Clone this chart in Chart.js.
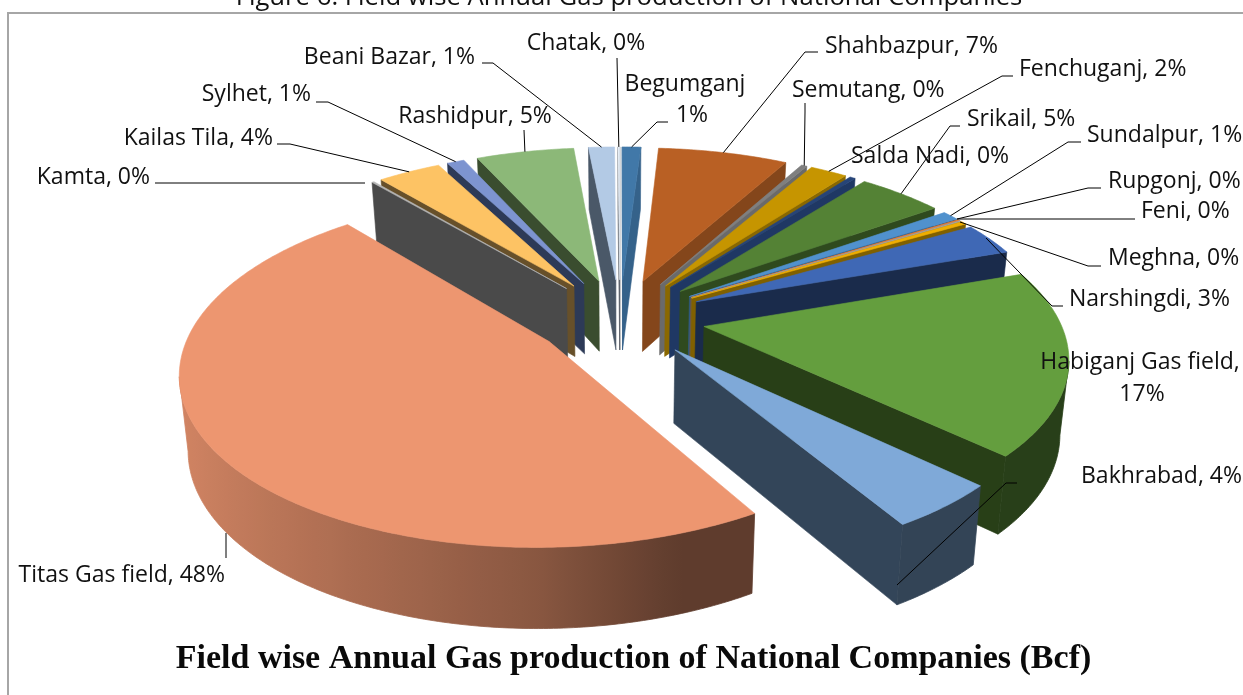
<!DOCTYPE html>
<html>
<head>
<meta charset="utf-8">
<style>html,body{margin:0;padding:0;background:#fff;overflow:hidden}#wrap{width:1243px;height:695px}canvas{display:block}</style>
<script src="https://cdn.jsdelivr.net/npm/chart.js@4"></script>
</head>
<body>
<div id="wrap"><canvas id="c" width="1243" height="695"></canvas></div>
<script>
const categories = ["Begumganj","Shahbazpur","Semutang","Fenchuganj","Salda Nadi","Srikail","Sundalpur","Rupgonj","Feni","Meghna","Narshingdi","Habiganj Gas field","Bakhrabad","Titas Gas field","Kamta","Kailas Tila","Sylhet","Rashidpur","Beani Bazar","Chatak"];
const shares = [1,7,0.3,2,0.3,4.6,0.9,0.1,0.1,0.3,3.1,17.4,4.3,47.38,0.12,3.4,0.93,5.27,1.4,0.1];
const percentLabels = [1,7,0,2,0,5,1,0,0,0,3,17,4,48,0,4,1,5,1,0];
const topColors = ["#4178A8","#B96024","#7F7F7F","#C69500","#264478","#548235","#5091CD","#ED7D31","#A5A5A5","#F0AE00","#3F68B5","#649E3E","#7FA9D8","#ED9670","#B7B7B7","#FDC364","#7D94D0","#8CB878","#B3CAE5","#E6EEF7"];
const wallColors = ["#35628A","#84461B","#6A6A6A","#8A6800","#1F3864","#2F4A1E","#2F5A85","#8A4A1C","#606060","#806000","#1A2B4B","#283F17","#334559","#5F3E2E","#4A4A4A","#67502A","#2D3A57","#3A4D2F","#4A5868","#5A6068"];

/* layout of the labels, separate from the data */
const labelLayout = [
 {lines:[["Begumganj",685,84],["1%",692,115]],align:"center",path:[[668,122],[657,122]]},
 {lines:[[null,825,46]],align:"left",path:[[818,52],[805,52]]},
 {lines:[[null,792,90]],align:"left",path:[[805,103],[805,112]]},
 {lines:[[null,1019,69]],align:"left",path:[[1013,76],[1002,76]]},
 {lines:[[null,851,156]],align:"left",path:null},
 {lines:[[null,967,119]],align:"left",path:[[960,126],[950,126]]},
 {lines:[[null,1087,135]],align:"left",path:[[1081,142],[1068,142]]},
 {lines:[[null,1108,181]],align:"left",path:[[1101,188],[1088,188],[957,219]],fixed:true},
 {lines:[[null,1141,211]],align:"left",path:[[1135,219],[957,219]],fixed:true},
 {lines:[[null,1108,258]],align:"left",path:[[1101,266],[1088,266],[960,222]],fixed:true},
 {lines:[[null,1069,299]],align:"left",path:[[1063,306],[1052,306],[986,238]],fixed:true},
 {lines:[["Habiganj Gas field,",1140,362],["17%",1142,394]],align:"center",path:null},
 {lines:[[null,1081,476]],align:"left",path:[[1017,483],[1006,483],[897,585]],fixed:true},
 {lines:[[null,225,575]],align:"right",path:[[226,558],[226,533]],fixed:true},
 {lines:[[null,150,177]],align:"right",path:[[155,183],[365,183]],fixed:true},
 {lines:[[null,273,138]],align:"right",path:[[277,144],[290,144]]},
 {lines:[[null,311,94]],align:"right",path:[[316,102],[328,102]]},
 {lines:[[null,475,116]],align:"center",path:[[524,130]]},
 {lines:[[null,475,57]],align:"right",path:[[482,63],[493,63]]},
 {lines:[[null,586,43]],align:"center",path:[[617,58]]}
];
const captionText = "Figure 6: Field wise Annual Gas production of National Companies";
const chartTitle = "Field wise Annual Gas production of National Companies (Bcf)";
const labelFont = "23px 'Open Sans', sans-serif";
const captionFont = "25.7px 'Open Sans', sans-serif";

/* view of the tilted, exploded pie */
const VIEW = {cx:620, cy:318, sx:355, sy:165, k:0.158, explode:0.24, depth:72, depthSlope:8, shrink:0.98};

function project(mid, theta, r, lowered){
  const x = VIEW.explode*Math.sin(mid) + r*Math.sin(theta);
  const z = VIEW.explode*Math.cos(mid) + r*Math.cos(theta);
  const s = 1/(1+VIEW.k*z);
  let X = VIEW.cx + VIEW.sx*x*s, Y = VIEW.cy - VIEW.sy*z*s;
  if(lowered){ X = VIEW.cx + (X-VIEW.cx)*VIEW.shrink; Y += VIEW.depth - VIEW.depthSlope*z; }
  return [X,Y];
}
function rgb(hex){ const n=parseInt(hex.slice(1),16); return [n>>16,(n>>8)&255,n&255]; }
function times(hex,b){ return "rgb("+rgb(hex).map(v=>Math.round(v*b)).join(",")+")"; }
function brightness(theta){
  const s=Math.sin(theta);
  return s<0 ? 0.58+0.32*(-s) : Math.max(0.40,0.58-0.55*s);
}
function fillPoly(ctx,pts,color){
  ctx.beginPath();
  pts.forEach((p,i)=> i?ctx.lineTo(p[0],p[1]):ctx.moveTo(p[0],p[1]));
  ctx.closePath();
  ctx.fillStyle=color; ctx.strokeStyle=color; ctx.lineWidth=0.6;
  ctx.fill(); ctx.stroke();
}
function wall(ctx,mid,t1,r1,t2,r2,color){
  const a=project(mid,t1,r1), b=project(mid,t2,r2);
  if(b[0]>=a[0]) return;
  fillPoly(ctx,[a,b,project(mid,t2,r2,true),project(mid,t1,r1,true)],color);
}
function outerWall(ctx,s,n){
  const upper=[],lower=[],angles=[];
  for(let j=0;j<n;j++){
    const a=s.t0+(s.t1-s.t0)*j/n, b=s.t0+(s.t1-s.t0)*(j+1)/n;
    const pa=project(s.mid,a,1), pb=project(s.mid,b,1);
    if(pb[0]>=pa[0]) continue;
    if(!upper.length){ upper.push(pa); lower.push(project(s.mid,a,1,true)); angles.push(a); }
    upper.push(pb); lower.push(project(s.mid,b,1,true)); angles.push(b);
  }
  if(upper.length<2) return;
  const xs=upper.map(p=>p[0]), min=Math.min(...xs), max=Math.max(...xs);
  const g=ctx.createLinearGradient(min,0,max,0);
  const step=Math.max(1,Math.floor(upper.length/40));
  for(let j=0;j<upper.length;j+=step){
    g.addColorStop((xs[j]-min)/(max-min||1),times(s.color,brightness(angles[j])));
  }
  const poly=upper.concat(lower.reverse());
  ctx.beginPath();
  poly.forEach((p,i)=> i?ctx.lineTo(p[0],p[1]):ctx.moveTo(p[0],p[1]));
  ctx.closePath();
  ctx.fillStyle=g; ctx.strokeStyle=g; ctx.lineWidth=0.8; ctx.fill(); ctx.stroke();
}

const pie3d = {
  id:"pie3d",
  beforeDatasetsDraw(chart){
    const ctx=chart.ctx, meta=chart.getDatasetMeta(0);
    const slices=meta.data.map((el,i)=>{
      const t0=el.startAngle+Math.PI/2, t1=el.endAngle+Math.PI/2, mid=(t0+t1)/2;
      return {i,t0,t1,mid,color:el.options.backgroundColor,z:Math.cos(mid)};
    });
    chart.$slices=slices;
    const ordered=slices.slice().sort((a,b)=>b.z-a.z);
    ctx.save();
    ordered.forEach(s=>{
      const n=Math.max(2,Math.ceil((s.t1-s.t0)/0.012));
      wall(ctx,s.mid,s.t0,0,s.t0,1,wallColors[s.i]);
      wall(ctx,s.mid,s.t1,1,s.t1,0,wallColors[s.i]);
      outerWall(ctx,s,n);
      const top=[project(s.mid,s.t0,0)];
      for(let j=0;j<=n;j++) top.push(project(s.mid,s.t0+(s.t1-s.t0)*j/n,1));
      fillPoly(ctx,top,s.color);
    });
    ctx.restore();
    return false;
  },
  afterDraw(chart){
    const ctx=chart.ctx, slices=chart.$slices;
    ctx.save();
    /* frame */
    ctx.strokeStyle="#A6A6A6"; ctx.lineWidth=2;
    ctx.beginPath(); ctx.moveTo(8,695); ctx.lineTo(8,13); ctx.lineTo(1243,13); ctx.stroke();
    /* clipped caption above the frame */
    ctx.font=captionFont; ctx.fillStyle="#111"; ctx.textAlign="center"; ctx.textBaseline="alphabetic";
    ctx.fillText(captionText,629,5);
    /* leaders */
    ctx.strokeStyle="#000"; ctx.lineWidth=1;
    labelLayout.forEach((lay,i)=>{
      if(!lay.path) return;
      const pts=lay.path.slice();
      if(!lay.fixed) pts.push(project(slices[i].mid,slices[i].mid,1));
      ctx.beginPath();
      pts.forEach((p,j)=> j?ctx.lineTo(p[0],p[1]):ctx.moveTo(p[0],p[1]));
      ctx.stroke();
    });
    /* labels */
    ctx.font=labelFont; ctx.fillStyle="#111"; ctx.textBaseline="middle";
    labelLayout.forEach((lay,i)=>{
      ctx.textAlign=lay.align;
      lay.lines.forEach(l=>{
        const txt=l[0]===null ? categories[i]+", "+percentLabels[i]+"%" : l[0];
        ctx.fillText(txt,l[1],l[2]);
      });
    });
    ctx.restore();
  }
};

new Chart(document.getElementById("c"),{
  type:"pie",
  data:{labels:categories,datasets:[{data:shares,backgroundColor:topColors,borderWidth:0}]},
  options:{
    responsive:false,animation:false,
    layout:{padding:{left:24,bottom:15}},
    plugins:{
      legend:{display:false},tooltip:{enabled:false},
      title:{display:true,text:chartTitle,position:"bottom",color:"#0a0a0a",padding:0,
        font:{family:"'Liberation Serif', serif",size:34,weight:"bold"}}
    }
  },
  plugins:[pie3d]
});
</script>
</body>
</html>
